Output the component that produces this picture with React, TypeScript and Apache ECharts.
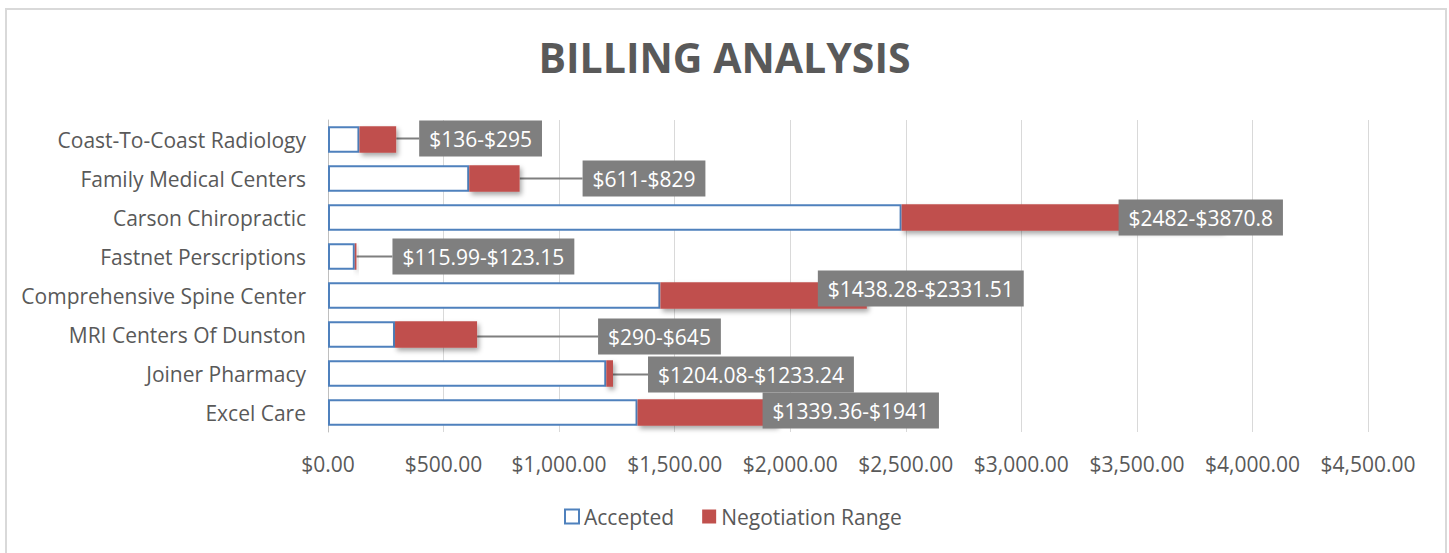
import React, { useEffect, useRef } from "react";
import * as echarts from "echarts";

const categories = [
  "Coast-To-Coast Radiology",
  "Family Medical Centers",
  "Carson Chiropractic",
  "Fastnet Perscriptions",
  "Comprehensive Spine Center",
  "MRI Centers Of Dunston",
  "Joiner Pharmacy",
  "Excel Care",
];
const acceptedLow = [136, 611, 2482, 115.99, 1438.28, 290, 1204.08, 1339.36];
const negotiationHigh = [295, 829, 3870.8, 123.15, 2331.51, 645, 1233.24, 1941];
const xTicks = [0, 500, 1000, 1500, 2000, 2500, 3000, 3500, 4000, 4500];

// label callout displacement (layout only)
const labelShift: [number, number][] = [
  [23, -1],
  [63, 0],
  [-104, 0],
  [36, 0],
  [-49, -7],
  [121, 2],
  [35, 1],
  [-14, -2],
];

const FONT = "'Open Sans', 'DejaVu Sans', sans-serif";
const GREY = "#595959";

function money(v: number) {
  return (
    "$" +
    v.toLocaleString("en-US", { minimumFractionDigits: 2, maximumFractionDigits: 2 })
  );
}

export default function App() {
  const ref = useRef<HTMLDivElement>(null);
  useEffect(() => {
    if (!ref.current) return;
    const chart = echarts.init(ref.current, null, { renderer: "svg" });
    const range = negotiationHigh.map((h, i) => +(h - acceptedLow[i]).toFixed(2));
    chart.setOption({
      animation: false,
      backgroundColor: "#ffffff",
      textStyle: { fontFamily: FONT },
      graphic: [
        {
          type: "rect",
          silent: true,
          shape: { x: 6, y: 9, width: 1440, height: 600 },
          style: { fill: "none", stroke: "#D9D9D9", lineWidth: 2 },
        },
      ],
      title: {
        text: "BILLING ANALYSIS",
        left: "center",
        top: 31,
        textStyle: { fontFamily: FONT, fontSize: 41, fontWeight: "bold", color: GREY },
      },
      legend: {
        left: 559,
        top: 501,
        itemWidth: 14,
        itemHeight: 14,
        itemGap: 28,
        textStyle: { fontFamily: FONT, fontSize: 21, color: GREY },
        data: [
          {
            name: "Accepted",
            icon: "rect",
            itemStyle: { color: "#ffffff", borderColor: "#4F81BD", borderWidth: 2 },
          },
          { name: "Negotiation Range", icon: "rect", itemStyle: { color: "#C0504D" } },
        ],
      },
      grid: { left: 328, right: 81, top: 120, bottom: 121 },
      xAxis: {
        type: "value",
        min: xTicks[0],
        max: xTicks[xTicks.length - 1],
        interval: 500,
        axisLine: { show: false },
        axisTick: { show: false },
        splitLine: { show: true, lineStyle: { color: "#D9D9D9", width: 1 } },
        axisLabel: {
          margin: 21,
          fontFamily: FONT,
          fontSize: 21,
          color: GREY,
          formatter: (v: number) => money(v),
        },
      },
      yAxis: {
        type: "category",
        inverse: true,
        data: categories,
        axisLine: { show: true, lineStyle: { color: "#BFBFBF", width: 1 } },
        axisTick: { show: false },
        axisLabel: { margin: 22, fontFamily: FONT, fontSize: 21, color: GREY },
      },
      series: [
        {
          name: "Accepted",
          type: "bar",
          stack: "total",
          barCategoryGap: "32%",
          data: acceptedLow,
          itemStyle: { color: "#ffffff", borderColor: "#4F81BD", borderWidth: 2 },
          emphasis: { disabled: true },
        },
        {
          name: "Negotiation Range",
          type: "bar",
          stack: "total",
          data: range,
          itemStyle: {
            color: "#C0504D",
            shadowColor: "rgba(0,0,0,0.35)",
            shadowBlur: 5,
            shadowOffsetX: 2,
            shadowOffsetY: 3,
          },
          emphasis: { disabled: true },
          label: {
            show: true,
            position: "right",
            distance: 0,
            fontFamily: FONT,
            fontSize: 21,
            lineHeight: 25,
            color: "#ffffff",
            backgroundColor: "#7F7F7F",
            padding: [6, 10, 5, 10],
            formatter: (p: any) =>
              "$" + acceptedLow[p.dataIndex] + "-$" + negotiationHigh[p.dataIndex],
          },
          labelLine: { show: true, lineStyle: { color: "#7F7F7F", width: 2 } },
          labelLayout: (params: any) => {
            const s = labelShift[params.dataIndex];
            return { dx: s[0], dy: s[1] };
          },
        },
      ],
    });
    return () => chart.dispose();
  }, []);
  return (
    <div
      ref={ref}
      style={{ position: "absolute", left: 0, top: 0, width: 1449, height: 553 }}
    />
  );
}
